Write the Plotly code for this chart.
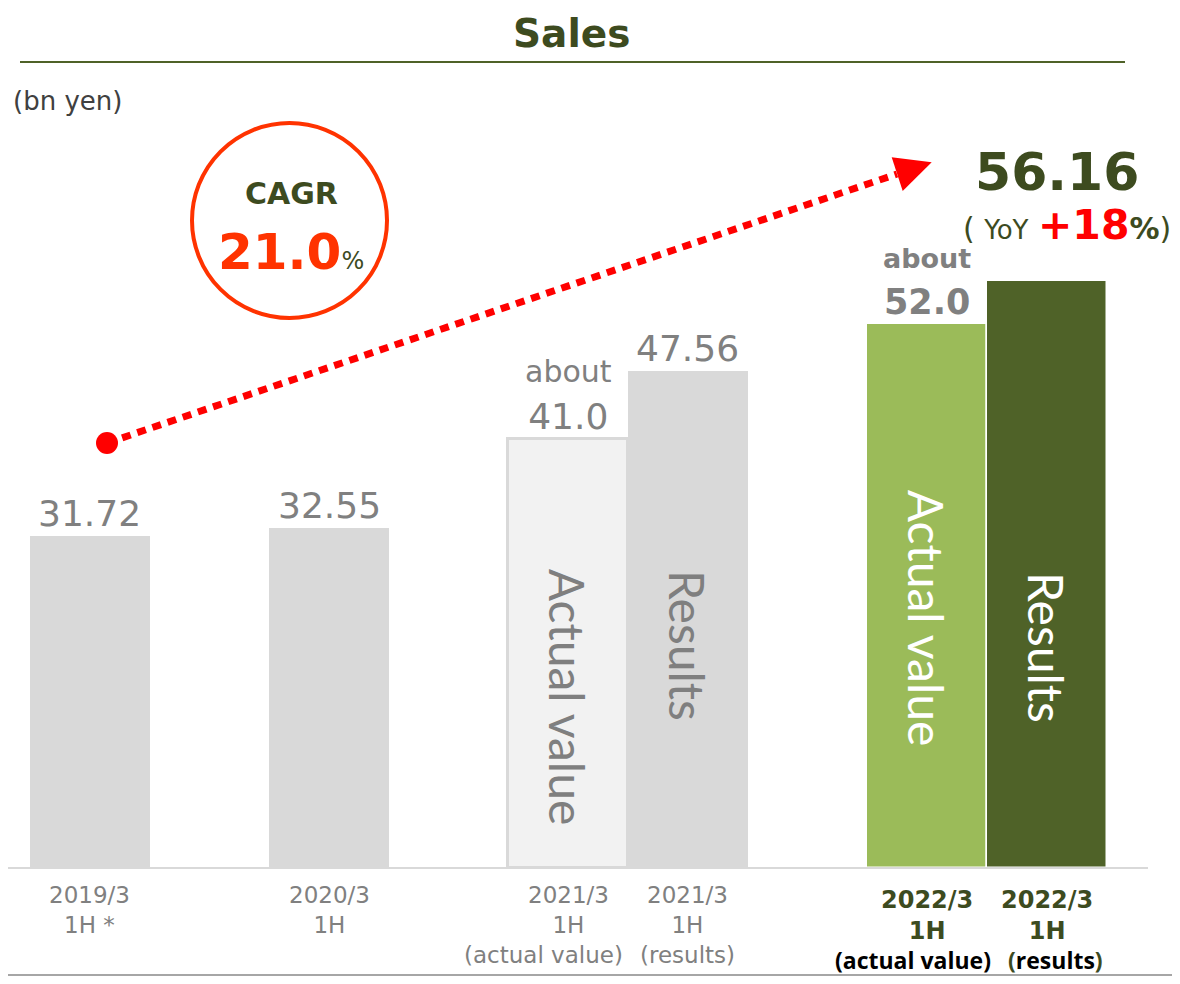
import plotly.graph_objects as go

# ---------------- data ----------------
categories = ["2019/3 1H", "2020/3 1H", "2021/3 1H (actual value)", "2021/3 1H (results)",
              "2022/3 1H (actual value)", "2022/3 1H (results)"]
values = [31.72, 32.55, 41.0, 47.56, 52.0, 56.16]
value_labels = ["31.72", "32.55", "about<br>41.0", "47.56", "about<br>52.0", "56.16"]
tick_line1 = ["2019/3", "2020/3", "2021/3", "2021/3", "2022/3", "2022/3"]
tick_line2 = ["1H *", "1H", "1H", "1H", "1H", "1H"]
tick_line3 = ["", "", "(actual value)", "(results)", "(actual value)", "(results)"]
bar_kind = ["", "", "Actual value", "Results", "Actual value", "Results"]
cagr_pct = "21.0"
yoy_pct = "+18"
unit_label = "(bn yen)"
title_text = "Sales"

# ---------------- styles ----------------
bar_colors = ["#d9d9d9", "#d9d9d9", "#f2f2f2", "#d9d9d9", "#9bbb59", "#4f6228"]
bar_line_colors = ["#d9d9d9", "#d9d9d9", "#d9d9d9", "#d9d9d9", "#ffffff", "#ffffff"]
bar_line_widths = [0, 0, 3, 0, 1.5, 1.5]
kind_colors = ["", "", "#7f7f7f", "#7f7f7f", "#ffffff", "#ffffff"]
kind_y_px = [0, 0, 697, 646, 618, 648]
line3_xshift = [0, 0, -25, 0, -14, 9]
spacers = [" ", "  ", "   "]
cat_order = [categories[0], spacers[0], categories[1], spacers[1], categories[2],
             categories[3], spacers[2], categories[4], categories[5]]
OLIVE = "#3d4b1f"
GREY = "#808080"
FONT = "DejaVu Sans"

# the page adds an 8px body margin; figure is sized to fit the 1180x984 window
OFF = 8
W, H = 1180 - 2 * OFF, 984 - 2 * OFF
BASE_PX = 868                      # page y of the baseline
PLOT_H = BASE_PX - OFF             # plot area height (top margin 0)
PX_PER_UNIT = 10.46


def px(x):
    return (x - OFF) / W


def py(y):
    return 1 - (y - OFF) / PLOT_H


fig = go.Figure()
fig.add_trace(go.Bar(
    x=categories, y=values,
    marker=dict(color=bar_colors, line=dict(color=bar_line_colors, width=bar_line_widths)),
    showlegend=False, hoverinfo="skip",
))
# invisible spacer categories to set horizontal spacing
fig.add_trace(go.Scatter(x=spacers, y=[0, 0, 0], mode="markers",
                         marker=dict(opacity=0), showlegend=False, hoverinfo="skip"))

ann = []
# value labels above bars
for i, (c, v, lab) in enumerate(zip(categories, values, value_labels)):
    if i == 5:
        continue
    bold = i == 4
    if "about" in lab:
        parts = lab.split("<br>")
        txt = f"<span style='font-size:{27 if bold else 30}px'>{parts[0]}</span><br>{parts[1]}"
    else:
        txt = lab
    if bold:
        txt = f"<b>{txt}</b>"
    ann.append(dict(x=c, y=v, xref="x", yref="y", text=txt, showarrow=False,
                    xanchor="center", yanchor="bottom", yshift=1, borderpad=0,
                    font=dict(family=FONT, size=35 if bold else 36, color=GREY)))

# vertical labels inside bars
for i, (c, k) in enumerate(zip(categories, bar_kind)):
    if not k:
        continue
    ann.append(dict(x=c, y=py(kind_y_px[i]), xref="x", yref="paper", text=k,
                    showarrow=False, textangle=90, xanchor="center", yanchor="middle",
                    font=dict(family="Lato, Open Sans", size=48, color=kind_colors[i])))

# category labels under axis
for i, c in enumerate(categories):
    if i >= 4:
        ann.append(dict(x=c, y=0, xref="x", yref="paper",
                        text=f"<b>{tick_line1[i]}<br>{tick_line2[i]}</b>", showarrow=False,
                        xanchor="center", yanchor="top", yshift=-16,
                        font=dict(family=FONT, size=24, color=OLIVE)))
        l3 = tick_line3[i]
        if "results" in l3:
            l3 = (f"<span style='color:{OLIVE}'>(</span>results"
                  f"<span style='color:{OLIVE}'>)</span>")
        ann.append(dict(x=c, y=0, xref="x", yref="paper", text=f"<b>{l3}</b>",
                        showarrow=False, xanchor="center", yanchor="top", yshift=-75,
                        xshift=line3_xshift[i], borderpad=0,
                        font=dict(family="Open Sans", size=23, color="#000000")))
    else:
        ann.append(dict(x=c, y=0, xref="x", yref="paper",
                        text=f"{tick_line1[i]}<br>{tick_line2[i]}", showarrow=False,
                        xanchor="center", yanchor="top", yshift=-12,
                        font=dict(family=FONT, size=23, color=GREY)))
        if tick_line3[i]:
            ann.append(dict(x=c, y=0, xref="x", yref="paper", text=tick_line3[i],
                            showarrow=False, xanchor="center", yanchor="top", yshift=-72,
                            xshift=line3_xshift[i],
                            font=dict(family=FONT, size=23, color=GREY)))


def label(x, y, text, size, color, anchor="center"):
    ann.append(dict(x=px(x), y=py(y), xref="paper", yref="paper", text=text,
                    showarrow=False, xanchor=anchor, yanchor="middle", borderpad=0,
                    font=dict(family=FONT, size=size, color=color)))


# title and unit
label(571, 33, f"<b>{title_text}</b>", 39, OLIVE)
label(12, 101, unit_label, 26, "#404040", anchor="left")

# CAGR
label(291, 194, "<b>CAGR</b>", 30, OLIVE)
label(291, 252, f"<b>{cagr_pct}</b><span style='font-size:24px;color:{OLIVE}'>%</span>",
      50, "#ff3300")

# 56.16 and YoY
label(1057, 172, f"<b>{value_labels[5]}</b>", 52, OLIVE)
label(1067, 225, (f"( <span style='font-size:26px'>YoY</span> "
                  f"<span style='color:#ff0000;font-size:41px'><b>{yoy_pct}</b></span>"
                  f"<b>%</b>)"), 30, OLIVE)

shapes = [
    # title rule
    dict(type="line", xref="paper", yref="paper", x0=px(20), x1=px(1125), y0=py(62), y1=py(62),
         line=dict(color="#4f6228", width=2)),
    # baseline
    dict(type="line", xref="paper", yref="paper", x0=px(5), x1=px(1148), y0=0, y1=0,
         line=dict(color="#d9d9d9", width=2)),
    # bottom rule
    dict(type="line", xref="paper", yref="paper", x0=0, x1=1, y0=py(975), y1=py(975),
         line=dict(color="#a6a6a6", width=2)),
    # CAGR circle
    dict(type="circle", xref="paper", yref="paper", x0=px(192), x1=px(387), y0=py(318), y1=py(123),
         line=dict(color="#ff3300", width=4)),
    # dotted growth arrow
    dict(type="line", xref="paper", yref="paper", x0=px(107), y0=py(443), x1=px(897), y1=py(174),
         line=dict(color="#ff0000", width=7, dash="9px,7px")),
    dict(type="circle", xref="paper", yref="paper", x0=px(96), x1=px(118), y0=py(454), y1=py(432),
         fillcolor="#ff0000", line=dict(width=0)),
    dict(type="path", xref="paper", yref="paper",
         path=(f"M {px(891.7)} {py(157.3)} L {px(931.7)} {py(162.3)} "
               f"L {px(902.7)} {py(191)} Z"),
         fillcolor="#ff0000", line=dict(width=0)),
]

# category slot geometry: slot 0 centre at page x 89.7, slot width 119.65 px
SLOT_W = 119.65
SLOT0 = 89.7 - OFF
fig.update_layout(
    width=W, height=H,
    margin=dict(l=0, r=0, t=0, b=H - PLOT_H, pad=0),
    paper_bgcolor="#ffffff", plot_bgcolor="#ffffff",
    bargap=0,
    annotations=ann, shapes=shapes,
    xaxis=dict(categoryorder="array", categoryarray=cat_order,
               range=[-SLOT0 / SLOT_W, (W - SLOT0) / SLOT_W],
               showticklabels=False, showgrid=False, zeroline=False, showline=False, ticks=""),
    yaxis=dict(range=[0, PLOT_H / PX_PER_UNIT], visible=False, showgrid=False, zeroline=False),
)

fig.write_html("out.html")
